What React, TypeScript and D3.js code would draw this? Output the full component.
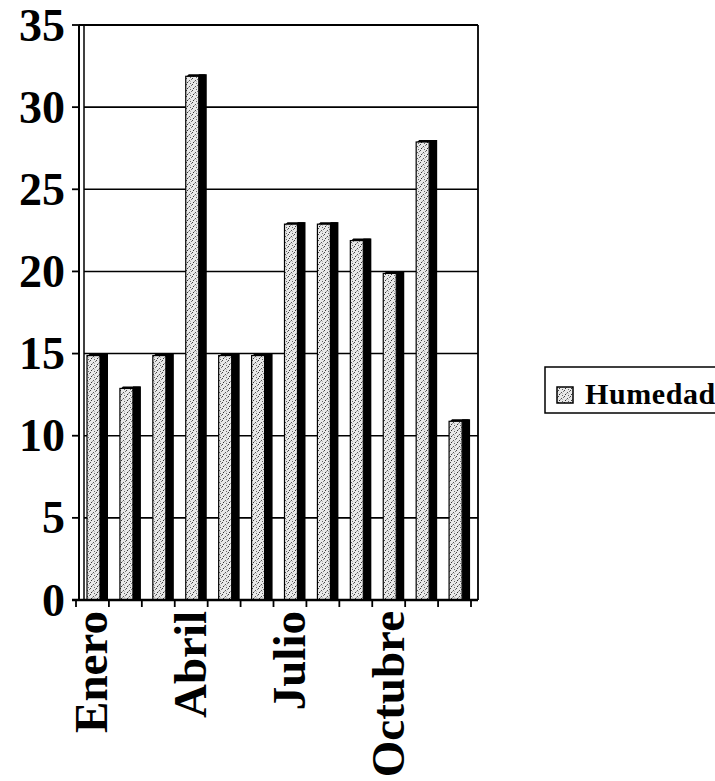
import React from "react";
import * as d3 from "d3";

const months = ["Enero", "Febrero", "Marzo", "Abril", "Mayo", "Junio", "Julio", "Agosto", "Septiembre", "Octubre", "Noviembre", "Diciembre"];
const humedad = [15, 13, 15, 32, 15, 15, 23, 23, 22, 20, 28, 11];
const yTicks = [0, 5, 10, 15, 20, 25, 30, 35];
const shownLabels = ["Enero", "Abril", "Julio", "Octubre"];
const seriesName = "Humedad";

const W = 715;
const H = 781;
const FONT = "'Liberation Serif', 'Times New Roman', serif";

export default function App() {
  const x = d3.scaleBand<string>().domain(months).range([76, 471]).padding(0);
  const y = d3.scaleLinear().domain([0, 35]).range([600, 25]);
  const bw = x.bandwidth();
  const plotLeft = 84;
  const plotRight = 478;
  const frontOff = 11;
  const frontW = 13;
  const sideW = 8;

  const tickXs = months.map((m) => x(m) as number).concat([(x(months[months.length - 1]) as number) + bw]);

  return (
    <svg width={W} height={H} style={{ position: "absolute", left: 0, top: 0, background: "#fff" }}>
      <defs>
        <pattern id="stip" width="6" height="6" patternUnits="userSpaceOnUse">
          <rect width="6" height="6" fill="#e8e8e8" />
          <rect x="0" y="0" width="1" height="1" fill="#444" />
          <rect x="3" y="2" width="1" height="1" fill="#555" />
          <rect x="1" y="4" width="1" height="1" fill="#333" />
          <rect x="4" y="5" width="1" height="1" fill="#666" />
          <rect x="5" y="1" width="1" height="1" fill="#777" />
          <rect x="2" y="3" width="1" height="1" fill="#999" />
          <rect x="4" y="3" width="1" height="1" fill="#bbb" />
        </pattern>
      </defs>

      {/* gridlines */}
      {yTicks.filter((t) => t > 0 && t < 35).map((t) => (
        <line key={"g" + t} x1={plotLeft} x2={plotRight} y1={y(t)} y2={y(t)} stroke="#000" strokeWidth={1.6} />
      ))}
      {/* top border */}
      <line x1={79} x2={plotRight} y1={y(35)} y2={y(35)} stroke="#000" strokeWidth={1.8} />
      {/* right border */}
      <line x1={plotRight} x2={plotRight} y1={y(35)} y2={y(0)} stroke="#000" strokeWidth={1.8} />
      {/* left wall double line */}
      <line x1={79} x2={79} y1={y(35)} y2={y(0)} stroke="#000" strokeWidth={2} />
      <line x1={84} x2={84} y1={y(35)} y2={y(0)} stroke="#000" strokeWidth={1.5} />

      {/* y ticks & labels */}
      {yTicks.map((t) => (
        <g key={"y" + t}>
          <line x1={72} x2={80} y1={y(t)} y2={y(t)} stroke="#000" strokeWidth={1.8} />
          <text x={65} y={y(t)} textAnchor="end" dominantBaseline="central" fontFamily={FONT} fontWeight="bold" fontSize={46} fill="#000">
            {t}
          </text>
        </g>
      ))}

      {/* bars */}
      {months.map((m, i) => {
        const x0 = (x(m) as number) + frontOff;
        const yt = y(humedad[i]);
        const yb = y(0);
        return (
          <g key={m}>
            <rect x={x0 + frontW} y={yt} width={sideW} height={yb - yt} fill="#000" />
            <polygon points={`${x0},${yt + 3} ${x0 + 3},${yt} ${x0 + frontW + sideW},${yt} ${x0 + frontW},${yt + 3}`} fill="#000" />
            <rect x={x0} y={yt + 2} width={frontW} height={yb - yt - 2} fill="url(#stip)" stroke="#000" strokeWidth={1.2} />
          </g>
        );
      })}

      {/* bottom axis */}
      <line x1={72} x2={plotRight} y1={y(0)} y2={y(0)} stroke="#000" strokeWidth={2.4} />
      {tickXs.map((tx, i) => (
        <line key={"xt" + i} x1={tx} x2={tx} y1={y(0)} y2={y(0) + 7} stroke="#000" strokeWidth={1.8} />
      ))}

      {/* x labels */}
      {months.map((m) =>
        shownLabels.includes(m) ? (
          <text
            key={"xl" + m}
            transform={`translate(${(x(m) as number) + bw / 2 - 1},${611}) rotate(-90)`}
            textAnchor="end"
            dominantBaseline="central"
            fontFamily={FONT}
            fontWeight="bold"
            fontSize={47}
            fill="#000"
          >
            {m}
          </text>
        ) : null
      )}

      {/* legend */}
      <rect x={545} y={367} width={175} height={46} fill="#fff" stroke="#000" strokeWidth={1.5} />
      <rect x={557} y={387} width={16} height={16} fill="url(#stip)" stroke="#000" strokeWidth={1.5} />
      <text x={585} y={404} fontFamily={FONT} fontWeight="bold" fontSize={30} letterSpacing={0.6} fill="#000">
        {seriesName}
      </text>
    </svg>
  );
}
